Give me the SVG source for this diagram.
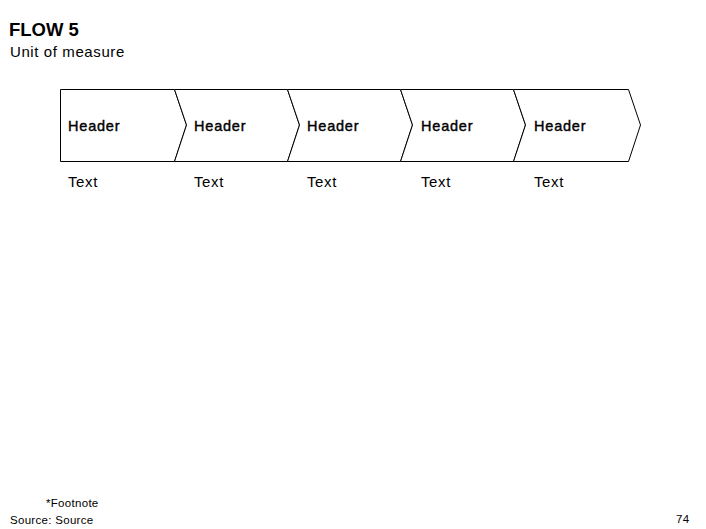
<svg xmlns="http://www.w3.org/2000/svg" width="706" height="529" viewBox="0 0 706 529">
<style>
.seg{fill:#fff;stroke:#000;stroke-width:1}
.hd{font-family:"Liberation Sans",Arial,sans-serif;font-size:14.5px;letter-spacing:0.8px;fill:#000;stroke:#000;stroke-width:0.4px}
.tx{font-family:"Liberation Sans",Arial,sans-serif;font-size:15px;letter-spacing:0.6px;fill:#000}
.sm{font-family:"Liberation Sans",Arial,sans-serif;font-size:11.5px;letter-spacing:0.3px;fill:#000}
</style>
<rect width="706" height="529" fill="#fff"/>
<text x="9" y="36" font-family="Liberation Sans, Arial, sans-serif" font-size="18.5" font-weight="bold">FLOW 5</text>
<text x="10" y="57" class="tx" letter-spacing="0.7">Unit of measure</text>
<g id="step1">
<polygon class="seg" points="60.5,89.5 174.5,89.5 186.5,125 174.5,161.5 60.5,161.5"/>
<text x="68" y="131" class="hd">Header</text>
<text x="68" y="187" class="tx">Text</text>
</g>
<g id="step2">
<polygon class="seg" points="174.5,89.5 287.5,89.5 299.5,125 287.5,161.5 174.5,161.5 186.5,125"/>
<text x="194" y="131" class="hd">Header</text>
<text x="194" y="187" class="tx">Text</text>
</g>
<g id="step3">
<polygon class="seg" points="287.5,89.5 400.5,89.5 412.5,125 400.5,161.5 287.5,161.5 299.5,125"/>
<text x="307" y="131" class="hd">Header</text>
<text x="307" y="187" class="tx">Text</text>
</g>
<g id="step4">
<polygon class="seg" points="400.5,89.5 513.5,89.5 525.5,125 513.5,161.5 400.5,161.5 412.5,125"/>
<text x="421" y="131" class="hd">Header</text>
<text x="421" y="187" class="tx">Text</text>
</g>
<g id="step5">
<polygon class="seg" points="513.5,89.5 628.5,89.5 640.5,125 628.5,161.5 513.5,161.5 525.5,125"/>
<text x="534" y="131" class="hd">Header</text>
<text x="534" y="187" class="tx">Text</text>
</g>
<g id="connectors"></g>
<text x="46" y="507" class="sm">*Footnote</text>
<text x="10" y="524" class="sm">Source: Source</text>
<text x="676" y="523" class="sm" font-size="10.5" letter-spacing="0">74</text>
</svg>
